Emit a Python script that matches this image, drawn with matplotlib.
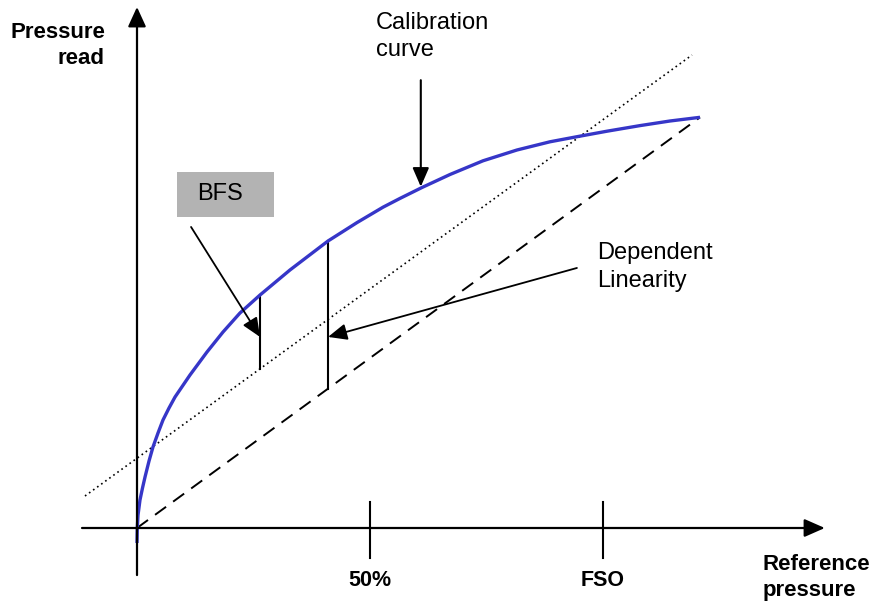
import matplotlib
matplotlib.use("Agg")
import matplotlib.pyplot as plt
import numpy as np
from matplotlib.patches import FancyArrowPatch, Rectangle

plt.rcParams['font.family'] = ['Liberation Sans', 'DejaVu Sans']

# ---- data (x: % of FSO, y: same units) ----
curve_x = [0.0, 0.06, 0.22, 0.64, 1.18, 1.72, 2.58, 3.43, 4.51, 5.58, 6.87, 8.16,
           11.37, 15.02, 18.46, 22.10, 26.40, 32.83, 40.99, 47.21, 52.79, 56.44,
           61.16, 67.17, 74.25, 81.55, 88.63, 94.42, 100.86, 107.94, 114.38, 120.82]
curve_y = [-3.22, 0.0, 2.79, 6.01, 8.58, 10.94, 14.38, 17.38, 20.39, 23.18, 25.75, 28.11,
           32.83, 37.77, 42.06, 46.14, 50.00, 55.37, 61.59, 65.54, 68.84, 70.73,
           73.07, 75.86, 78.80, 81.12, 82.88, 83.97, 85.15, 86.35, 87.34, 88.13]
bfs_line_x = [-11.16, 119.1]
bfs_line_y = [6.87, 101.5]
term_line_x = [0.0, 120.82]
term_line_y = [0.0, 88.13]
tick_positions = [50, 100]
tick_labels = ['50%', 'FSO']
bfs_err_x = 26.4
lin_err_x = 41.0

fig = plt.figure(figsize=(8.74, 6.05), dpi=100)
ax = fig.add_axes([0, 0, 1, 1])
s = 4.66
ax.set_xlim(-137 / s, (874 - 137) / s)
ax.set_ylim((528 - 605) / s, 528 / s)
ax.axis('off')

def arrow(p0, p1, lw=1.5, hl=1.15, hw=0.55):
    a = FancyArrowPatch(p0, p1, arrowstyle=f'-|>,head_length={hl},head_width={hw}',
                        mutation_scale=10, lw=lw, color='black',
                        shrinkA=0, shrinkB=0, zorder=5)
    ax.add_patch(a)

# axes with arrows
arrow((-11.8, 0), (147.6, 0), lw=1.6, hl=1.25, hw=0.55)
arrow((0, -10.1), (0, 111.8), lw=1.6, hl=1.2, hw=0.55)

# ticks
for tp, tl in zip(tick_positions, tick_labels):
    ax.plot([tp, tp], [-6.4, 5.6], color='black', lw=1.5)
    ax.text(tp, -11.2, tl, ha='center', va='center', fontsize=15.5, fontweight='bold')

# lines
ax.plot(bfs_line_x, bfs_line_y, color='black', lw=1.2, dashes=(1, 2.0))
ax.plot(term_line_x, term_line_y, color='black', lw=1.4, dashes=(7, 4.5))
ax.plot(curve_x, curve_y, color='#3636c8', lw=2.4, solid_capstyle='butt',
        solid_joinstyle='round', zorder=4)

# error verticals
def line_at(xs, ys, x):
    return float(np.interp(x, xs, ys))

ax.plot([bfs_err_x, bfs_err_x],
        [line_at(bfs_line_x, bfs_line_y, bfs_err_x), line_at(curve_x, curve_y, bfs_err_x)],
        color='black', lw=1.5)
ax.plot([lin_err_x, lin_err_x],
        [line_at(term_line_x, term_line_y, lin_err_x), line_at(curve_x, curve_y, lin_err_x)],
        color='black', lw=1.5)

# annotation arrows
arrow((60.9, 96.1), (60.9, line_at(curve_x, curve_y, 60.9) + 0.3), lw=1.5, hl=1.15, hw=0.5)
arrow((11.6, 64.6), (bfs_err_x, 41.0), lw=1.3, hl=1.15, hw=0.5)
arrow((94.4, 55.8), (lin_err_x, 41.0), lw=1.3, hl=1.15, hw=0.5)

# BFS box
ax.add_patch(Rectangle((8.58, 66.7), 20.8, 9.7, facecolor='#b3b3b3', edgecolor='none'))
ax.text(12.9, 71.6, 'BFS', ha='left', va='center', fontsize=17)

# texts
ax.text(-6.87, 103.5, 'Pressure\nread', ha='right', va='center', fontsize=16,
        fontweight='bold', linespacing=1.33)
ax.text(134.3, -10.6, 'Reference\npressure', ha='left', va='center', fontsize=16,
        fontweight='bold', linespacing=1.33)
ax.text(51.3, 105.5, 'Calibration\ncurve', ha='left', va='center', fontsize=17,
        linespacing=1.33)
ax.text(98.7, 56.0, 'Dependent\nLinearity', ha='left', va='center', fontsize=17,
        linespacing=1.33)

fig.savefig('out.png', dpi=100)
